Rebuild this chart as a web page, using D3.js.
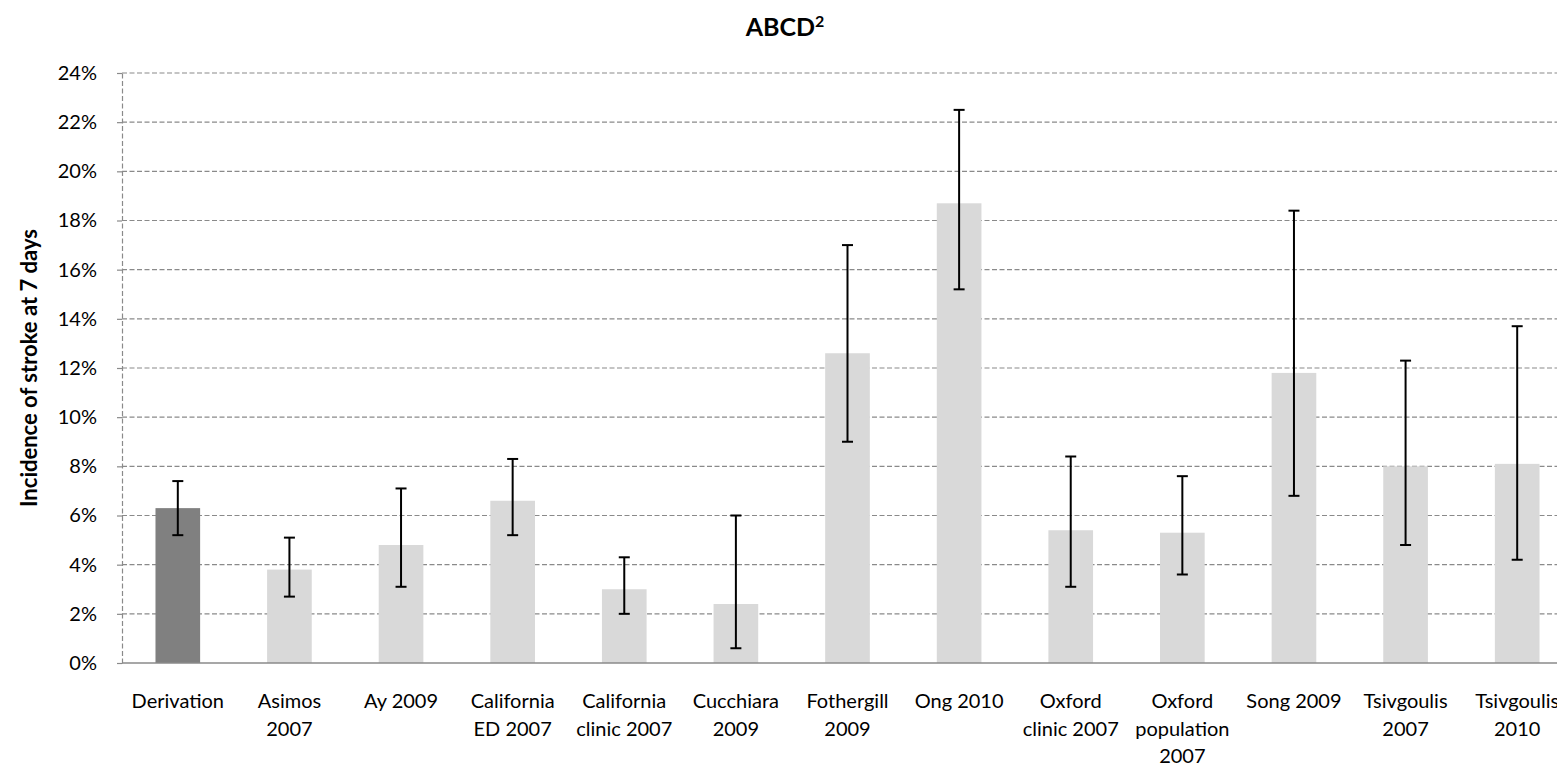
<!DOCTYPE html>
<html>
<head>
<meta charset="utf-8">
<script src="https://cdn.jsdelivr.net/npm/d3@7"></script>
<style>
  html, body { margin: 0; padding: 0; background: #fff; }
  svg { display: block; font-family: Lato, "Open Sans", sans-serif; }
</style>
</head>
<body>
<div id="chart"></div>
<script>
// study labels, one entry per line of the axis label
const categories = [
  ["Derivation"],
  ["Asimos", "2007"],
  ["Ay 2009"],
  ["California", "ED 2007"],
  ["California", "clinic 2007"],
  ["Cucchiara", "2009"],
  ["Fothergill", "2009"],
  ["Ong 2010"],
  ["Oxford", "clinic 2007"],
  ["Oxford", "population", "2007"],
  ["Song 2009"],
  ["Tsivgoulis", "2007"],
  ["Tsivgoulis", "2010"]
];
const incidence = [0.063, 0.038, 0.048, 0.066, 0.030, 0.024, 0.126, 0.187, 0.054, 0.053, 0.118, 0.080, 0.081];
const ciLow  = [0.052, 0.027, 0.031, 0.052, 0.020, 0.006, 0.090, 0.152, 0.031, 0.036, 0.068, 0.048, 0.042];
const ciHigh = [0.074, 0.051, 0.071, 0.083, 0.043, 0.060, 0.170, 0.225, 0.084, 0.076, 0.184, 0.123, 0.137];
const yTicks = [0, 0.02, 0.04, 0.06, 0.08, 0.10, 0.12, 0.14, 0.16, 0.18, 0.20, 0.22, 0.24];

const width = 1557;
const height = 766;
const margin = { top: 73, right: -16, bottom: 103, left: 122 };

const data = categories.map((lines, i) => ({
  key: lines.join(" "),
  lines,
  value: incidence[i],
  lo: ciLow[i],
  hi: ciHigh[i]
}));

const svg = d3.select("#chart")
  .append("svg")
  .attr("width", width)
  .attr("height", height);

const x = d3.scaleBand()
  .domain(data.map(d => d.key))
  .range([margin.left, width - margin.right])
  .paddingInner(0.6)
  .paddingOuter(0.3);

const y = d3.scaleLinear()
  .domain([0, 0.24])
  .range([height - margin.bottom, margin.top]);

// gridlines
svg.append("g")
  .selectAll("line")
  .data(yTicks.filter(t => t > 0))
  .join("line")
  .attr("x1", margin.left)
  .attr("x2", width)
  .attr("y1", d => y(d))
  .attr("y2", d => y(d))
  .attr("stroke", "#8a8a8a")
  .attr("stroke-width", 1.2)
  .attr("stroke-dasharray", "5,2.5");

// y axis
const yAxis = svg.append("g")
  .attr("transform", `translate(${margin.left},0)`)
  .call(d3.axisLeft(y).tickValues(yTicks).tickFormat(d3.format(".0%")).tickSize(7).tickPadding(18).tickSizeOuter(0));
yAxis.select(".domain")
  .attr("stroke", "#8a8a8a")
  .attr("stroke-width", 1.2)
  .attr("stroke-dasharray", "5,2.5");
yAxis.selectAll(".tick line")
  .attr("stroke", "#8a8a8a")
  .attr("stroke-width", 1.2)
  .attr("stroke-dasharray", "5,2.5");
yAxis.selectAll(".tick text")
  .attr("font-size", 20)
  .attr("fill", "#000")
  .attr("font-family", "Lato, sans-serif");

// bars
svg.append("g")
  .selectAll("rect")
  .data(data)
  .join("rect")
  .attr("x", d => x(d.key))
  .attr("y", d => y(d.value))
  .attr("width", x.bandwidth())
  .attr("height", d => y(0) - y(d.value))
  .attr("fill", (d, i) => i === 0 ? "#808080" : "#d9d9d9");

// x axis line
svg.append("line")
  .attr("x1", margin.left)
  .attr("x2", width)
  .attr("y1", y(0))
  .attr("y2", y(0))
  .attr("stroke", "#8a8a8a")
  .attr("stroke-width", 1.5);

// error bars
const err = svg.append("g")
  .attr("stroke", "#000")
  .attr("stroke-width", 2)
  .selectAll("g")
  .data(data)
  .join("g")
  .attr("transform", d => `translate(${x(d.key) + x.bandwidth() / 2},0)`);
err.append("line")
  .attr("y1", d => y(d.lo))
  .attr("y2", d => y(d.hi));
err.append("line")
  .attr("x1", -5.5).attr("x2", 5.5)
  .attr("y1", d => y(d.hi)).attr("y2", d => y(d.hi));
err.append("line")
  .attr("x1", -5.5).attr("x2", 5.5)
  .attr("y1", d => y(d.lo)).attr("y2", d => y(d.lo));

// category labels
const labels = svg.append("g")
  .attr("font-size", 20)
  .attr("text-anchor", "middle")
  .attr("fill", "#000")
  .selectAll("text")
  .data(data)
  .join("text")
  .attr("x", d => x(d.key) + x.bandwidth() / 2)
  .attr("y", y(0) + 45);
labels.selectAll("tspan")
  .data(d => d.lines.map(l => ({ l, cx: x(d.key) + x.bandwidth() / 2 })))
  .join("tspan")
  .attr("x", d => d.cx)
  .attr("dy", (d, i) => i === 0 ? 0 : 27.5)
  .text(d => d.l);

// title
const title = svg.append("text")
  .attr("x", 785)
  .attr("y", 36)
  .attr("text-anchor", "middle")
  .attr("font-size", 25)
  .attr("font-weight", "bold")
  .text("ABCD");
title.append("tspan")
  .attr("font-size", 16)
  .attr("dy", -9)
  .text("2");

// y axis title
svg.append("text")
  .attr("transform", `translate(37,${(y(0) + y(0.24)) / 2}) rotate(-90)`)
  .attr("text-anchor", "middle")
  .attr("font-size", 22)
  .attr("font-weight", "bold")
  .text("Incidence of stroke at 7 days");
</script>
</body>
</html>
